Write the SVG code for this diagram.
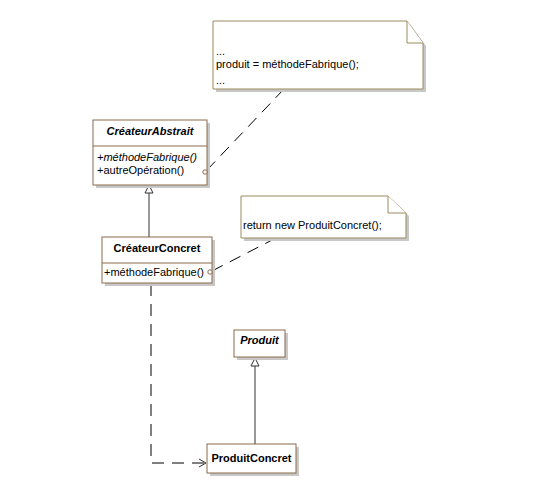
<svg xmlns="http://www.w3.org/2000/svg" width="545" height="494" viewBox="0 0 545 494">
<style>
text{font-family:"Liberation Sans",Arial,sans-serif;font-size:11px;fill:#000}
.t{font-weight:bold}
.i{font-style:italic}
.box{fill:#fff;stroke:#8b6a4a;stroke-width:1}
.note{fill:#fff;stroke:#9a8a5c;stroke-width:1}
.sh{fill:#c8c8c8}
.ln{fill:none;stroke:#333;stroke-width:1}
.dash{fill:none;stroke:#000;stroke-width:1;stroke-dasharray:12,8}
.tri{fill:#fff;stroke:#333;stroke-width:1}
.c{fill:#fff;stroke:#8b6a4a;stroke-width:1}
</style>
<rect width="545" height="494" fill="#fff"/>
<g id="connectors">
<line class="dash" x1="284" y1="89" x2="207" y2="170"/>
<line class="dash" x1="276" y1="238" x2="212" y2="271"/>
<line class="ln" x1="149" y1="192" x2="149" y2="237"/>
<polygon class="tri" points="149,185 145,193 153,193"/>
<line class="ln" x1="255" y1="366" x2="255" y2="444"/>
<polygon class="tri" points="255,358 251,366 259,366"/>
<polyline class="dash" points="151,284 151,463 205,463"/>
<polyline class="ln" points="199,459 206,463 199,467"/>
</g>
<g id="note1">
<polygon class="sh" points="216,92 426,92 426,46 410,24 216,24"/>
<polygon class="note" points="213,21 407,21 423,43 423,89 213,89"/>
<polyline class="note" points="407,21 407,43 423,43"/>
<text x="216" y="55">...</text>
<text x="216" y="68">produit = méthodeFabrique();</text>
<text x="216" y="84">...</text>
</g>
<g id="createurAbstrait">
<rect class="sh" x="96" y="123" width="114" height="65"/>
<rect class="box" x="93" y="120" width="114" height="65"/>
<line class="box" x1="93" y1="146" x2="207" y2="146"/>
<text class="t i" x="150" y="135" text-anchor="middle">CréateurAbstrait</text>
<text class="i" x="97" y="161">+méthodeFabrique()</text>
<text x="97" y="174">+autreOpération()</text>
<circle class="c" cx="205" cy="172" r="2.2"/>
</g>
<g id="createurConcret">
<rect class="sh" x="105" y="240" width="110" height="46"/>
<rect class="box" x="102" y="237" width="110" height="46"/>
<line class="box" x1="102" y1="263" x2="212" y2="263"/>
<text class="t" x="157" y="252" text-anchor="middle">CréateurConcret</text>
<text x="104" y="276">+méthodeFabrique()</text>
<circle class="c" cx="210" cy="272" r="2.2"/>
</g>
<g id="note2">
<polygon class="sh" points="244,241 409,241 409,216 391,199 244,199"/>
<polygon class="note" points="241,196 388,196 406,213 406,238 241,238"/>
<polyline class="note" points="388,196 388,213 406,213"/>
<text x="243" y="229">return new ProduitConcret();</text>
</g>
<g id="produit">
<rect class="sh" x="237" y="333" width="51" height="27"/>
<rect class="box" x="234" y="330" width="51" height="27"/>
<text class="t i" x="259.5" y="344" text-anchor="middle">Produit</text>
</g>
<g id="produitConcret">
<rect class="sh" x="210" y="447" width="89" height="29"/>
<rect class="box" x="207" y="444" width="89" height="29"/>
<text class="t" x="251.5" y="462" text-anchor="middle">ProduitConcret</text>
</g>
</svg>
